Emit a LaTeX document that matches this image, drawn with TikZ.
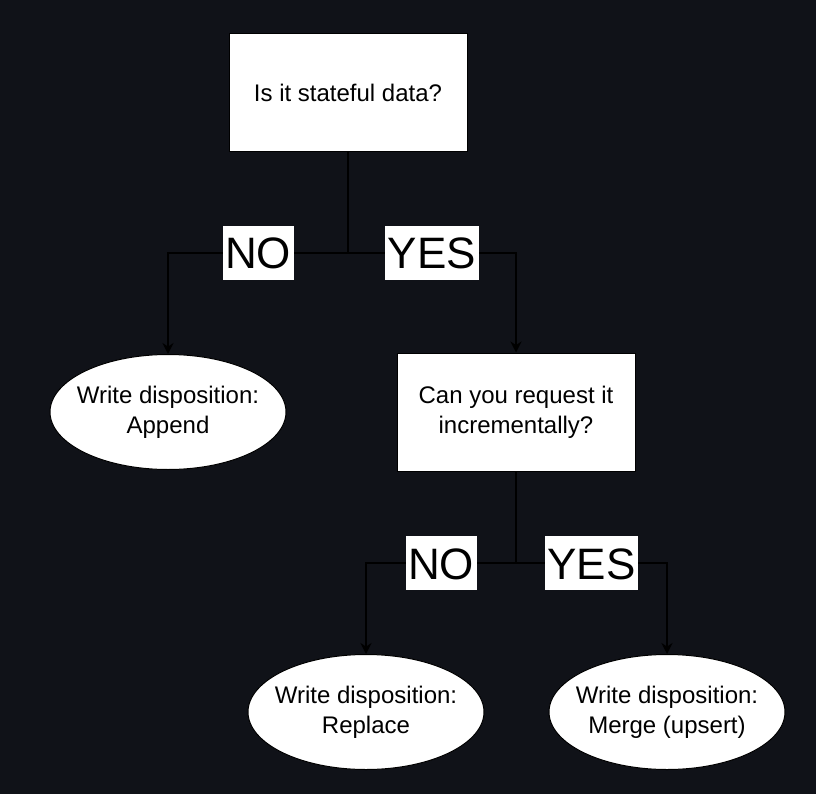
\documentclass[tikz,border=0pt]{standalone}
\usepackage{fontspec}
\setmainfont{Liberation Sans}
\usetikzlibrary{shapes.geometric,arrows.meta}
\definecolor{bgdark}{RGB}{16,18,24}
\begin{document}
\begin{tikzpicture}[x=1pt, y=1pt, line width=1.5pt,
        question/.style = {draw=black, line width=1pt, fill=white, minimum width=238pt, minimum height=118pt, align=center, font=\fontsize{24}{30}\selectfont},
        outcome/.style = {draw=black, line width=1pt, fill=white, ellipse, inner xsep=-10pt, inner ysep=0pt, minimum width=236pt, minimum height=115pt, align=center, font=\fontsize{24}{30}\selectfont},
        answer/.style = {fill=white, inner xsep=2.5pt, inner ysep=11pt, text height=32pt, text depth=0pt, font=\fontsize{44}{44}\selectfont},
        flow/.style = {-{Stealth[length=11pt,width=11pt]}}]
        \fill[bgdark] (0,0) rectangle (816,-794);
        \useasboundingbox (0,0) rectangle (816,-794);
        \node[question] (stateful) at (348,-93) {Is it stateful data?};
        \node[outcome] (append) [below of=stateful, node distance=319pt, xshift=-180pt] {Write disposition:\\Append};
        \node[question] (incremental) [below of=stateful, node distance=319pt, xshift=168pt] {Can you request it\\incrementally?};
        \node[outcome] (replace) [below of=incremental, node distance=300pt, xshift=-150pt] {Write disposition:\\Replace};
        \node[outcome] (merge) [below of=incremental, node distance=300pt, xshift=151pt] {Write disposition:\\Merge (upsert)};
        \path (stateful) ++(0,-160) coordinate (fork1);
        \path (incremental) ++(0,-151) coordinate (fork2);
        \draw[flow] (stateful) -- (fork1) -| node[answer, pos=0.25] {NO} (append);
        \draw[flow] (stateful) -- (fork1) -| node[answer, pos=0.25] {YES} (incremental);
        \draw[flow] (incremental) -- (fork2) -| node[answer, pos=0.25] {NO} (replace);
        \draw[flow] (incremental) -- (fork2) -| node[answer, pos=0.25] {YES} (merge);
    \end{tikzpicture}
\end{document}
